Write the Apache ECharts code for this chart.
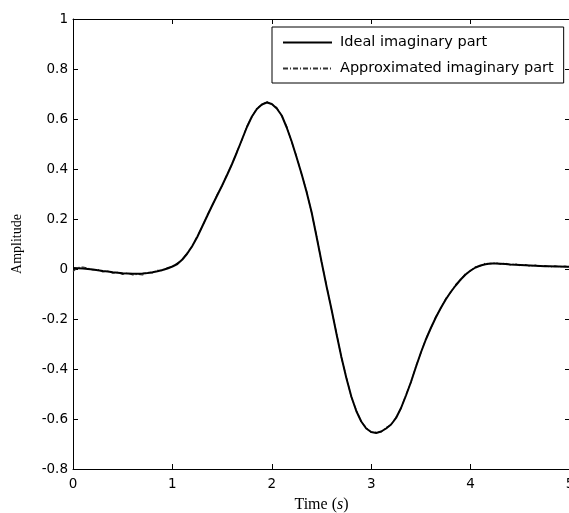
<!DOCTYPE html>
<html>
<head>
<meta charset="utf-8">
<script src="https://cdn.jsdelivr.net/npm/echarts@6/dist/echarts.min.js"></script>
<style>
html,body{margin:0;padding:0;background:#fff;overflow:hidden;}
#chart{width:600px;height:540px;}
</style>
</head>
<body>
<div id="chart"></div>
<script>
var timeValues = [0.00,0.05,0.10,0.15,0.20,0.25,0.30,0.35,0.40,0.45,0.50,0.55,0.60,0.65,0.70,0.75,0.80,0.85,0.90,0.95,
  1.00,1.05,1.10,1.15,1.20,1.25,1.30,1.35,1.40,1.45,1.50,1.55,1.60,1.65,1.70,1.75,1.80,1.85,1.90,1.95,
  2.00,2.05,2.10,2.15,2.20,2.25,2.30,2.35,2.40,2.45,2.50,2.55,2.60,2.65,2.70,2.75,2.80,2.85,2.90,2.95,
  3.00,3.05,3.10,3.15,3.20,3.25,3.30,3.35,3.40,3.45,3.50,3.55,3.60,3.65,3.70,3.75,3.80,3.85,3.90,3.95,
  4.00,4.05,4.10,4.15,4.20,4.25,4.30,4.35,4.40,4.45,4.50,4.55,4.60,4.65,4.70,4.75,4.80,4.85,4.90,4.95,5.00];
var idealImag = [0.004,0.003,0.002,0.000,-0.002,-0.005,-0.008,-0.010,-0.013,-0.015,-0.017,-0.018,-0.019,-0.019,-0.018,-0.016,-0.013,-0.009,-0.004,0.002,
  0.010,0.020,0.038,0.062,0.092,0.128,0.170,0.212,0.254,0.294,0.334,0.376,0.420,0.468,0.518,0.568,0.610,0.640,0.658,0.666,
  0.660,0.642,0.614,0.566,0.510,0.446,0.380,0.308,0.228,0.130,0.030,-0.068,-0.160,-0.258,-0.352,-0.436,-0.510,-0.568,-0.610,-0.638,
  -0.652,-0.656,-0.650,-0.638,-0.622,-0.596,-0.556,-0.506,-0.452,-0.392,-0.334,-0.282,-0.236,-0.194,-0.156,-0.122,-0.092,-0.066,-0.042,-0.022,
  -0.006,0.006,0.014,0.019,0.022,0.022,0.021,0.020,0.018,0.017,0.016,0.015,0.014,0.013,0.012,0.011,0.011,0.010,0.010,0.009,0.009];
var approxImag = [-0.010,0.006,0.008,0.004,-0.004,-0.002,-0.012,-0.008,-0.017,-0.013,-0.022,-0.016,-0.024,-0.021,-0.024,-0.014,-0.016,-0.005,-0.007,0.006,
  0.008,0.024,0.036,0.066,0.090,0.132,0.168,0.216,0.252,0.298,0.332,0.380,0.418,0.472,0.516,0.572,0.608,0.644,0.656,0.670,
  0.658,0.646,0.612,0.570,0.508,0.450,0.378,0.312,0.226,0.134,0.028,-0.064,-0.162,-0.254,-0.354,-0.432,-0.512,-0.564,-0.612,-0.634,
  -0.654,-0.652,-0.652,-0.634,-0.624,-0.592,-0.558,-0.502,-0.454,-0.388,-0.336,-0.278,-0.238,-0.190,-0.158,-0.118,-0.094,-0.062,-0.044,-0.018,
  -0.008,0.010,0.012,0.024,0.020,0.026,0.019,0.024,0.016,0.021,0.013,0.018,0.011,0.016,0.009,0.014,0.008,0.013,0.008,0.012,0.007];
var xTicks = [0,1,2,3,4,5];
var yTicks = [-0.8,-0.6,-0.4,-0.2,0,0.2,0.4,0.6,0.8,1];

function pairs(xs, ys){ return xs.map(function(x,i){ return [x, ys[i]]; }); }

var chart = echarts.init(document.getElementById('chart'), null, {renderer:'canvas'});
var axisLine = {show:true, onZero:false, lineStyle:{color:'#000', width:1}};
var axisTick = {show:true, inside:true, length:5, lineStyle:{color:'#000', width:1}};
var labelFont = {color:'#000', fontFamily:'DejaVu Sans, sans-serif', fontSize:13.5};
var serif = 'Liberation Serif, Times New Roman, serif';
chart.setOption({
  backgroundColor:'#fff',
  animation:false,
  grid:{left:73, top:19, width:497, height:450, containLabel:false},
  legend:{
    left:272, top:27, orient:'vertical',
    backgroundColor:'#fff', borderColor:'#000', borderWidth:1, borderRadius:0,
    padding:[8,10,7,10], itemGap:11, itemWidth:49, itemHeight:14,
    itemStyle:{opacity:0},
    textStyle:{color:'#000', fontFamily:'DejaVu Sans, sans-serif', fontSize:14.5, padding:[0,0,0,3]},
    data:['Ideal imaginary part','Approximated imaginary part']
  },
  xAxis:[{
    type:'value', min:0, max:5, interval:1, position:'bottom',
    axisLine:axisLine, axisTick:axisTick, splitLine:{show:false},
    axisLabel:Object.assign({margin:8, formatter:function(v){return String(v);}}, labelFont),
    name:'{t|Time (}{i|s}{t|)}', nameLocation:'middle', nameGap:28,
    nameTextStyle:{rich:{t:{fontFamily:serif, fontSize:16, color:'#000'}, i:{fontFamily:serif, fontSize:16, fontStyle:'italic', color:'#000'}}}
  },{
    type:'value', min:0, max:5, interval:1, position:'top',
    axisLine:axisLine, axisTick:axisTick, splitLine:{show:false}, axisLabel:{show:false}
  }],
  yAxis:[{
    type:'value', min:-0.8, max:1, interval:0.2, position:'left',
    axisLine:axisLine, axisTick:axisTick, splitLine:{show:false},
    axisLabel:Object.assign({margin:5, formatter:function(v){ var r=Math.round(v*10)/10; return String(r); }}, labelFont),
    name:'Amplitude', nameLocation:'middle', nameGap:49, nameRotate:90,
    nameTextStyle:{fontFamily:serif, fontSize:14, color:'#000'}
  },{
    type:'value', min:-0.8, max:1, interval:0.2, position:'right',
    axisLine:axisLine, axisTick:axisTick, splitLine:{show:false}, axisLabel:{show:false}
  }],
  series:[{
    name:'Ideal imaginary part', type:'line', smooth:false, symbol:'none',
    data:pairs(timeValues, idealImag),
    lineStyle:{color:'#000', width:2, type:'solid'}, itemStyle:{color:'#000'}, z:3
  },{
    name:'Approximated imaginary part', type:'line', smooth:false, symbol:'none',
    data:pairs(timeValues, approxImag),
    lineStyle:{color:'#333', width:1.2, type:[5,2,1,2]}, itemStyle:{color:'#333'}, z:2
  }]
});
</script>
</body>
</html>
